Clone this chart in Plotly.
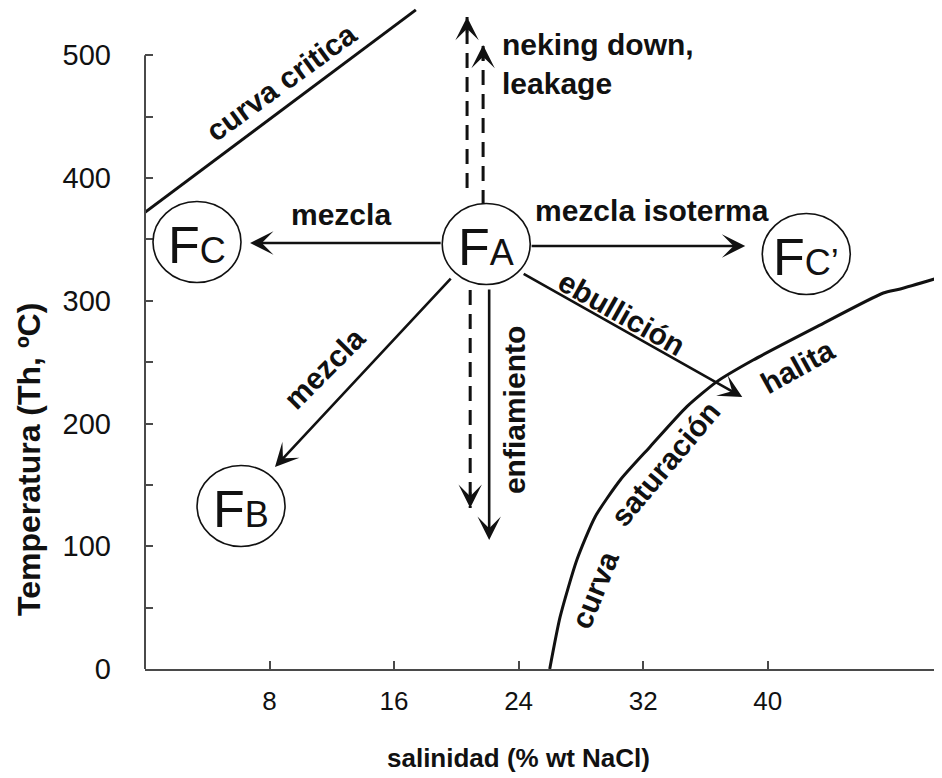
import plotly.graph_objects as go

# ---------------- data ----------------
x_ticks = [8, 16, 24, 32, 40]
x_tick_labels = ["8", "16", "24", "32", "40"]
y_ticks = [0, 50, 100, 150, 200, 250, 300, 350, 400, 450, 500]
y_tick_labels = ["0", "", "100", "", "200", "", "300", "", "400", "", "500"]

crit_x = [0.0, 17.4]
crit_y = [372.0, 537.0]

sat_x = [26.0, 26.67, 27.74, 28.92, 30.53, 32.45, 34.81, 36.74, 39.07, 43.17, 47.43, 48.52, 51.2]
sat_y = [0.0, 42.6, 88.8, 124.1, 154.0, 181.1, 213.7, 234.1, 251.7, 278.9, 306.3, 309.6, 319.5]

circ_x = [3.34, 21.92, 42.48, 6.17]
circ_y = [347.9, 346.2, 338.1, 132.8]
circ_sub = ["C", "A", "C\u2019", "B"]

# solid arrows: tail x, tail y, tip x, tip y
arr_tail_x = [19.09, 24.74, 19.73, 22.11, 24.23]
arr_tail_y = [347.0, 344.6, 319.3, 310.4, 322.6]
arr_tip_x = [6.75, 38.56, 8.35, 22.11, 38.37]
arr_tip_y = [347.0, 344.6, 164.6, 105.1, 221.6]

# dashed arrows
dash_tail_x = [20.89, 20.69, 21.72]
dash_tail_y = [308.8, 391.9, 378.0]
dash_tip_x = [20.89, 20.69, 21.72]
dash_tip_y = [131.2, 531.2, 508.4]

lab_text = ["curva critica", "mezcla", "mezcla isoterma", "neking down,<br>leakage",
            "ebullición", "enfiamiento", "mezcla", "curva", "saturación", "halita"]
lab_x = [8.74, 12.6, 32.58, 22.81, 30.66, 23.71, 11.5, 28.92, 33.42, 41.9]
lab_y = [477.4, 369.9, 373.9, 492.9, 290.0, 211.0, 245.2, 64.4, 167.8, 246.8]
lab_ang = [-36, 0, 0, 0, 29.5, -90, -45, -68, -50, -29]

FONT = "Liberation Sans, Arial, sans-serif"
INK = "#111111"
AX = "#4a4a4a"

# the page body has an 8 px margin: the figure is sized/offset to compensate
PLOT_L, PLOT_W, PLOT_H = 137, 797, 661

fig = go.Figure()

fig.add_trace(go.Scatter(x=crit_x, y=crit_y, mode="lines",
                         line=dict(color=INK, width=3), hoverinfo="skip"))
fig.add_trace(go.Scatter(x=sat_x, y=sat_y, mode="lines",
                         line=dict(color=INK, width=3, shape="spline", smoothing=0.6),
                         hoverinfo="skip"))

# dashed shafts
for tx, ty, hx, hy in zip(dash_tail_x, dash_tail_y, dash_tip_x, dash_tip_y):
    fig.add_trace(go.Scatter(x=[tx, hx], y=[ty, hy], mode="lines",
                             line=dict(color=INK, width=3, dash="15px,9px"),
                             hoverinfo="skip"))

shapes = []
shapes.append(dict(type="line", xref="paper", yref="y", x0=0, x1=0, y0=0, y1=500,
                   line=dict(color=AX, width=2)))
for cx, cy in zip(circ_x, circ_y):
    shapes.append(dict(type="circle", xref="x", yref="y", xsizemode="pixel",
                       ysizemode="pixel", xanchor=cx, yanchor=cy,
                       x0=-44, x1=44, y0=-40.5, y1=40.5,
                       line=dict(color=INK, width=1.6), fillcolor="white"))

annotations = []
for tx, ty, hx, hy in zip(arr_tail_x, arr_tail_y, arr_tip_x, arr_tip_y):
    annotations.append(dict(x=hx, y=hy, ax=tx, ay=ty, xref="x", yref="y",
                            axref="x", ayref="y", text="", showarrow=True,
                            arrowhead=3, arrowsize=1.5, arrowwidth=2.6,
                            arrowcolor=INK, standoff=0))
for tx, ty, hx, hy in zip(dash_tail_x, dash_tail_y, dash_tip_x, dash_tip_y):
    d = 14 if hy > ty else -14
    annotations.append(dict(x=hx, y=hy, ax=hx, ay=hy - d, xref="x", yref="y",
                            axref="x", ayref="y", text="", showarrow=True,
                            arrowhead=3, arrowsize=1.5, arrowwidth=2.6,
                            arrowcolor=INK, standoff=0))

for cx, cy, sub in zip(circ_x, circ_y, circ_sub):
    annotations.append(dict(x=cx, y=cy, xref="x", yref="y", showarrow=False,
                            text="F<span style='font-size:36px'>" + sub + "</span>",
                            font=dict(family=FONT, size=52, color=INK),
                            xanchor="center", yanchor="middle", yshift=-3))

for t, x, y, a in zip(lab_text, lab_x, lab_y, lab_ang):
    left = t.startswith("neking")
    annotations.append(dict(x=x, y=y, xref="x", yref="y", showarrow=False, text=t,
                            textangle=a, align="left" if left else "center",
                            xanchor="left" if left else "center", yanchor="middle",
                            font=dict(family=FONT, size=30, color=INK, weight="bold")))

# axis titles
annotations.append(dict(x=(518 - 145) / PLOT_W, y=(669 - 758) / PLOT_H, xref="paper", yref="paper",
                        showarrow=False, text="salinidad (% wt NaCl)",
                        font=dict(family=FONT, size=26, color=INK, weight="bold"),
                        xanchor="center", yanchor="middle"))
annotations.append(dict(x=(29 - 145) / PLOT_W, y=(669 - 460) / PLOT_H, xref="paper", yref="paper",
                        showarrow=False, text="Temperatura (Th, ºC)", textangle=-90,
                        font=dict(family=FONT, size=32, color=INK, weight="bold"),
                        xanchor="center", yanchor="middle"))

fig.update_layout(
    width=934, height=770,
    margin=dict(l=PLOT_L, r=0, t=0, b=770 - PLOT_H, autoexpand=False),
    paper_bgcolor="white", plot_bgcolor="white",
    showlegend=False,
    shapes=shapes, annotations=annotations,
    xaxis=dict(range=[0, 51.2], showgrid=False, zeroline=False, showline=True,
               linecolor=AX, linewidth=2, ticks="inside", ticklen=8, tickwidth=1.5,
               tickcolor=AX, tickvals=x_ticks, ticktext=x_tick_labels,
               tickfont=dict(family=FONT, size=26, color=INK), ticklabelstandoff=8),
    yaxis=dict(range=[0, PLOT_H / 1.2275], showgrid=False, zeroline=False, showline=False,
               ticks="inside", ticklen=8, tickwidth=1.5, tickcolor=AX,
               tickvals=y_ticks, ticktext=y_tick_labels,
               tickfont=dict(family=FONT, size=29, color=INK), ticklabelstandoff=33),
)

fig.write_html("out.html")
